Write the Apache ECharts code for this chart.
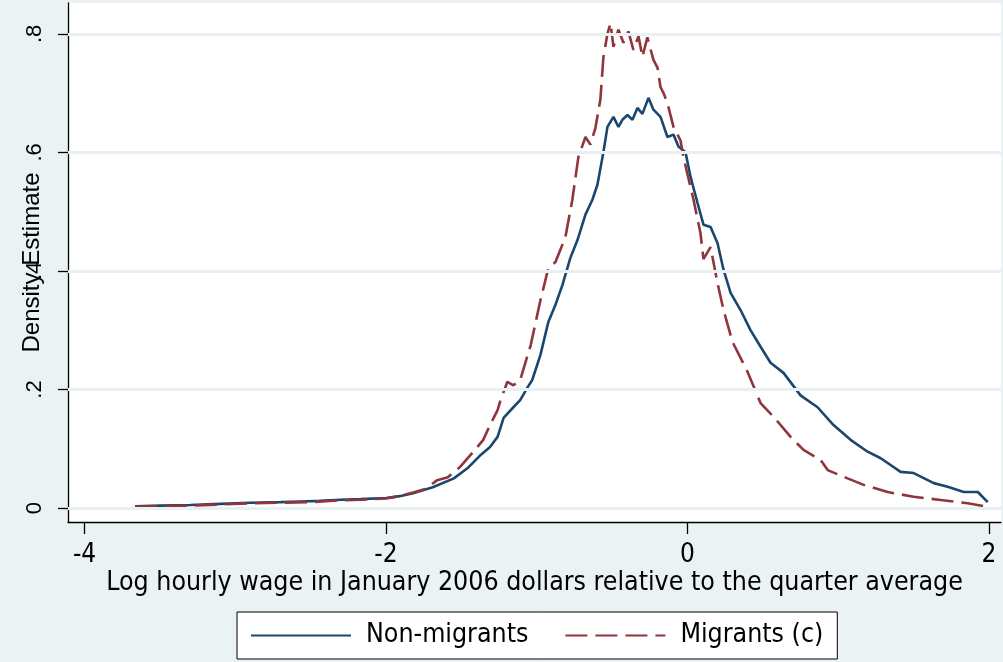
<!DOCTYPE html>
<html>
<head>
<meta charset="utf-8">
<script src="https://cdn.jsdelivr.net/npm/echarts@6/dist/echarts.min.js"></script>
<style>
html,body{margin:0;padding:0;background:#EAF2F3;}
#c{width:1003px;height:662px;}
</style>
</head>
<body>
<div id="c"></div>
<script>
// ---- data ----
const xTicks = [-4, -2, 0, 2];
const yTicks = [0, 0.2, 0.4, 0.6, 0.8];
const yTickLabels = ["0", ".2", ".4", ".6", ".8"];
const seriesNames = ["Non-migrants", "Migrants (c)"];

const nonMigX = [-3.665,-3.50,-3.30,-3.10,-2.90,-2.70,-2.57,-2.44,-2.30,-2.17,-2.00,-1.91,-1.82,-1.69,-1.55,-1.46,-1.37,-1.31,-1.26,-1.22,-1.155,-1.11,-1.06,-1.03,-0.976,-0.923,-0.876,-0.830,-0.777,-0.730,-0.677,-0.631,-0.598,-0.558,-0.531,-0.491,-0.458,-0.432,-0.398,-0.365,-0.332,-0.299,-0.259,-0.226,-0.179,-0.133,-0.093,-0.060,-0.013,0.020,0.066,0.106,0.153,0.199,0.239,0.286,0.352,0.418,0.485,0.551,0.637,0.750,0.863,0.969,1.082,1.195,1.282,1.414,1.501,1.634,1.726,1.833,1.926,1.992];
const nonMigY = [0.003,0.004,0.005,0.007,0.009,0.010,0.011,0.012,0.014,0.015,0.017,0.020,0.025,0.035,0.050,0.067,0.090,0.103,0.120,0.152,0.170,0.182,0.204,0.216,0.258,0.314,0.343,0.376,0.422,0.452,0.495,0.520,0.545,0.600,0.643,0.660,0.643,0.655,0.663,0.655,0.675,0.665,0.692,0.672,0.660,0.626,0.630,0.610,0.600,0.559,0.515,0.478,0.474,0.447,0.402,0.363,0.334,0.300,0.272,0.245,0.228,0.190,0.170,0.140,0.115,0.095,0.084,0.061,0.059,0.042,0.036,0.027,0.027,0.010];

const migX = [-3.665,-3.50,-3.30,-3.10,-2.90,-2.70,-2.50,-2.30,-2.17,-2.00,-1.91,-1.82,-1.74,-1.66,-1.59,-1.51,-1.42,-1.355,-1.31,-1.26,-1.24,-1.195,-1.155,-1.11,-1.04,-0.976,-0.923,-0.876,-0.810,-0.764,-0.724,-0.677,-0.644,-0.611,-0.578,-0.558,-0.531,-0.511,-0.491,-0.458,-0.425,-0.392,-0.359,-0.325,-0.299,-0.266,-0.246,-0.226,-0.199,-0.179,-0.159,-0.133,-0.093,-0.046,-0.027,0.040,0.086,0.106,0.153,0.199,0.239,0.299,0.398,0.485,0.571,0.684,0.770,0.883,0.930,1.062,1.169,1.328,1.501,1.680,1.859,1.992];
const migY = [0.002,0.003,0.004,0.006,0.008,0.009,0.010,0.013,0.014,0.016,0.020,0.026,0.032,0.047,0.052,0.069,0.095,0.115,0.140,0.165,0.182,0.213,0.207,0.216,0.275,0.350,0.405,0.415,0.457,0.520,0.592,0.626,0.613,0.641,0.689,0.760,0.800,0.818,0.778,0.807,0.785,0.804,0.773,0.796,0.761,0.794,0.775,0.756,0.743,0.710,0.700,0.683,0.643,0.620,0.592,0.520,0.464,0.420,0.440,0.380,0.334,0.280,0.230,0.177,0.154,0.120,0.098,0.081,0.064,0.050,0.039,0.027,0.019,0.0135,0.008,0.002];

const zip = (xs, ys) => xs.map((x, i) => [x, ys[i]]);

const chart = echarts.init(document.getElementById('c'));
const narrow = '"Liberation Sans Narrow", "DejaVu Sans Condensed", "Arial Narrow", "Liberation Sans", sans-serif';
const sans = '"Liberation Sans", Arial, sans-serif';

chart.setOption({
  backgroundColor: '#EAF2F3',
  animation: false,
  grid: {
    left: 68, right: 2, top: 3, bottom: 140,
    containLabel: false, outerBoundsMode: 'none',
    show: true, backgroundColor: '#ffffff', borderWidth: 0
  },
  xAxis: {
    type: 'value', min: -4.11, max: 2.08,
    name: 'Log hourly wage in January 2006 dollars relative to the quarter average',
    nameLocation: 'middle', nameGap: 48, nameMoveOverlap: false,
    nameTextStyle: { fontFamily: narrow, fontSize: 26.5, color: '#000' },
    axisLine: { show: true, onZero: false, lineStyle: { color: '#000', width: 1.3 } },
    axisTick: { show: true, customValues: xTicks, length: 12, lineStyle: { color: '#000', width: 1.3 } },
    axisLabel: { customValues: xTicks, margin: 20, fontFamily: narrow, fontSize: 26, color: '#000',
      formatter: v => String(v) },
    splitLine: { show: false }
  },
  yAxis: {
    type: 'value', min: -0.0236, max: 0.852,
    name: 'Density Estimate',
    nameLocation: 'middle', nameGap: 24, nameRotate: 90, nameMoveOverlap: false,
    nameTextStyle: { fontFamily: sans, fontSize: 24, color: '#000' },
    axisLine: { show: true, onZero: false, lineStyle: { color: '#000', width: 1.3 } },
    axisTick: { show: true, customValues: yTicks, length: 10, lineStyle: { color: '#000', width: 1.3 } },
    axisLabel: { customValues: yTicks, rotate: 90, margin: 22, fontFamily: sans, fontSize: 22, color: '#000',
      formatter: v => { const i = yTicks.findIndex(t => Math.abs(t - v) < 1e-6); return i >= 0 ? yTickLabels[i] : ''; } },
    splitLine: { show: false }
  },
  legend: {
    data: seriesNames,
    left: 237, top: 612,
    orient: 'horizontal',
    backgroundColor: '#ffffff', borderColor: '#000', borderWidth: 1, borderRadius: 0,
    padding: [10, 14, 10, 13],
    itemWidth: 100, itemHeight: 14, itemGap: 36,
    itemStyle: { opacity: 0 },
    textStyle: { fontFamily: narrow, fontSize: 26.5, color: '#000', padding: [0, 0, 0, 10] }
  },
  series: [
    {
      name: '__grid', type: 'line', data: [], z: 1, silent: true,
      markLine: {
        silent: true, symbol: ['none', 'none'], label: { show: false },
        lineStyle: { color: '#E8F0F2', width: 3, type: 'solid' },
        data: yTicks.map(t => ({ yAxis: t }))
      }
    },
    {
      name: seriesNames[0], type: 'line', data: zip(nonMigX, nonMigY), z: 3,
      symbol: 'none', showSymbol: false,
      lineStyle: { color: '#1A476F', width: 2.6 }, itemStyle: { color: '#1A476F' }
    },
    {
      name: seriesNames[1], type: 'line', data: zip(migX, migY), z: 4,
      symbol: 'none', showSymbol: false,
      lineStyle: { color: '#90353B', width: 2.6, type: [22, 8] }, itemStyle: { color: '#90353B' }
    }
  ]
});
</script>
</body>
</html>
